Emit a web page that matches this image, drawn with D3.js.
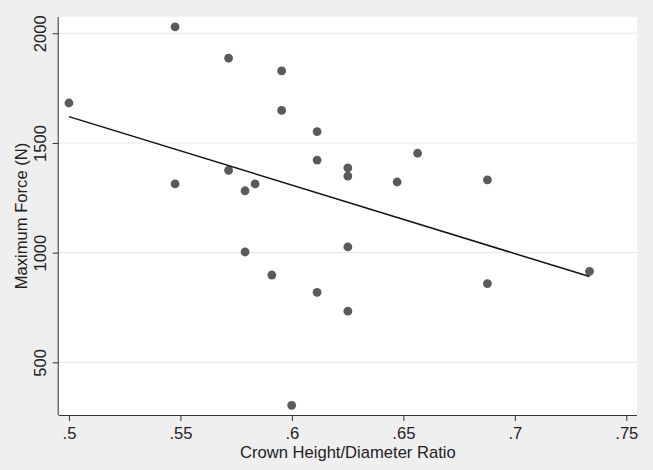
<!DOCTYPE html>
<html>
<head>
<meta charset="utf-8">
<script src="https://cdn.jsdelivr.net/npm/d3@7"></script>
<style>
  html, body { margin: 0; padding: 0; background: #efefef; }
  svg { display: block; }
  text { font-family: "Liberation Sans", Arial, Helvetica, sans-serif; fill: #222; }
</style>
</head>
<body>
<svg id="chart" width="653" height="470"></svg>
<script>
// Crown height/diameter ratio (x) and maximum force in N (y)
const ratio = [0.500, 0.5476, 0.5716, 0.5954, 0.5954, 0.6113, 0.6113, 0.6251, 0.6251, 0.6564,
               0.6877, 0.5476, 0.5716, 0.579, 0.5835, 0.6472, 0.579, 0.591, 0.6113, 0.5999,
               0.6251, 0.6251, 0.6877, 0.7335];
const force = [1682, 2029, 1887, 1828, 1648, 1552, 1422, 1386, 1349, 1453,
               1332, 1313, 1375, 1282, 1313, 1322, 1003, 898, 819, 304,
               1026, 733, 859, 915];
// fitted regression line endpoints
const fitX = [0.500, 0.7335];
const fitY = [1620, 891];
const xTicks = [0.5, 0.55, 0.6, 0.65, 0.7, 0.75];
const xTickLabels = [".5", ".55", ".6", ".65", ".7", ".75"];
const yTicks = [500, 1000, 1500, 2000];
const yTickLabels = ["500", "1000", "1500", "2000"];

const svg = d3.select("#chart");
const plot = { left: 58.7, right: 637, top: 17, bottom: 415 };
const FS = 16.6;

const x = d3.scaleLinear().domain([0.4954, 0.7548]).range([plot.left, plot.right]);
const y = d3.scaleLinear().domain([260, 2074]).range([plot.bottom, plot.top]);

svg.append("rect").attr("width", 653).attr("height", 470).attr("fill", "#efefef");
svg.append("rect")
  .attr("x", plot.left).attr("y", plot.top)
  .attr("width", plot.right - plot.left).attr("height", plot.bottom - plot.top)
  .attr("fill", "#ffffff");

// gridlines
svg.append("g").selectAll("line").data(yTicks).join("line")
  .attr("x1", plot.left).attr("x2", plot.right)
  .attr("y1", d => y(d)).attr("y2", d => y(d))
  .attr("stroke", "#e4e4e4").attr("stroke-width", 1);

// x axis
const xAxis = d3.axisBottom(x).tickValues(xTicks)
  .tickFormat((d, i) => xTickLabels[i]).tickSize(6).tickPadding(6).tickSizeOuter(0);
const gx = svg.append("g").attr("transform", `translate(0,${plot.bottom})`).call(xAxis);
gx.select(".domain").attr("stroke", "#333").attr("d", `M${plot.left},0.5H${plot.right}`);
gx.selectAll(".tick line").attr("stroke", "#333");
gx.selectAll(".tick text").attr("font-size", FS).attr("fill", "#222")
  .attr("font-family", "Liberation Sans, Arial, sans-serif").attr("dy", "0.71em");

// y axis
const yAxis = d3.axisLeft(y).tickValues(yTicks)
  .tickFormat((d, i) => yTickLabels[i]).tickSize(6).tickSizeOuter(0);
const gy = svg.append("g").attr("transform", `translate(${plot.left},0)`).call(yAxis);
gy.select(".domain").attr("stroke", "#333").attr("d", `M-0.5,${plot.top}V${plot.bottom}`);
gy.selectAll(".tick line").attr("stroke", "#333");
gy.selectAll(".tick text")
  .attr("font-size", FS).attr("fill", "#222")
  .attr("font-family", "Liberation Sans, Arial, sans-serif")
  .attr("x", null).attr("dy", null)
  .attr("text-anchor", "middle")
  .attr("transform", "translate(-12.7,0) rotate(-90)");

// points
svg.append("g").selectAll("circle").data(ratio).join("circle")
  .attr("cx", d => x(d))
  .attr("cy", (d, i) => y(force[i]))
  .attr("r", 4.4)
  .attr("fill", "#5a5a5a");

// fit line
const line = d3.line().x(d => x(d[0])).y(d => y(d[1]));
svg.append("path")
  .datum(fitX.map((d, i) => [d, fitY[i]]))
  .attr("d", line)
  .attr("fill", "none").attr("stroke", "#111").attr("stroke-width", 1.5);

// axis titles
svg.append("text")
  .attr("x", (plot.left + plot.right) / 2).attr("y", 458)
  .attr("text-anchor", "middle").attr("font-size", FS)
  .text("Crown Height/Diameter Ratio");
svg.append("text")
  .attr("transform", `translate(27,${(plot.top + plot.bottom) / 2}) rotate(-90)`)
  .attr("text-anchor", "middle").attr("font-size", FS)
  .text("Maximum Force (N)");
</script>
</body>
</html>
